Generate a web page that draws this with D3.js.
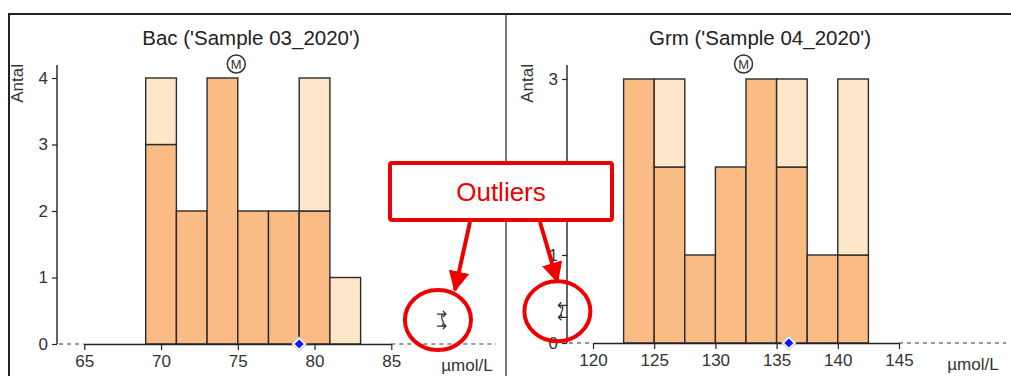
<!DOCTYPE html>
<html>
<head>
<meta charset="utf-8">
<script src="https://cdn.jsdelivr.net/npm/d3@7"></script>
<style>
  body { margin: 0; background: #fff; }
  svg { display: block; font-family: "Liberation Sans", Arial, sans-serif; }
</style>
</head>
<body>
<div id="chart"></div>
<script>
// values
var titles = ["Bac ('Sample 03_2020')", "Grm ('Sample 04_2020')"];
var unitLabel = "µmol/L";
var yLabel = "Antal";

var bacBinStart = [69, 71, 73, 75, 77, 79, 81];
var bacBinWidth = 2;
var bacDark  = [3, 2, 4, 2, 2, 2, 0];
var bacLight = [1, 0, 0, 0, 0, 2, 1];
var bacXTicks = [65, 70, 75, 80, 85];
var bacYTicks = [0, 1, 2, 3, 4];
var bacTarget = 79;
var bacMedian = 74.9;
var bacOutlier = 88.3;

var grmBinStart = [122.5, 125, 127.5, 130, 132.5, 135, 137.5, 140];
var grmBinWidth = 2.5;
var grmDark  = [3, 2, 1, 2, 3, 2, 1, 1];
var grmLight = [0, 1, 0, 0, 0, 1, 0, 2];
var grmXTicks = [120, 125, 130, 135, 140, 145];
var grmYTicks = [0, 1, 2, 3];
var grmTarget = 136;
var grmMedian = 132.3;
var grmOutlier = 117.5;

var width = 1011, height = 376;
var darkFill = "#fbbb85", lightFill = "#fee6c9", edge = "#2b2b2b";
var red = "#ee0000";

var svg = d3.select("#chart").append("svg")
  .attr("width", width)
  .attr("height", height);

// outer frame and divider
svg.append("path")
  .attr("d", "M9," + (height + 2) + "V14H" + (width + 2))
  .attr("fill", "none")
  .attr("stroke", "#222")
  .attr("stroke-width", 2);
svg.append("line")
  .attr("x1", 506).attr("x2", 506)
  .attr("y1", 14).attr("y2", height)
  .attr("stroke", "#333")
  .attr("stroke-width", 1.3);

var panels = [
  { title: titles[0], titleX: 251, starts: bacBinStart, w: bacBinWidth, dark: bacDark, light: bacLight,
    xTicks: bacXTicks, yTicks: bacYTicks, target: bacTarget, median: bacMedian, outlier: bacOutlier, dir: 1,
    axisX: 57, xRange: [84.3, 391.3], yRange: [344, 78], endX: 496, unitX: 467, labelX: 17 },
  { title: titles[1], titleX: 760, starts: grmBinStart, w: grmBinWidth, dark: grmDark, light: grmLight,
    xTicks: grmXTicks, yTicks: grmYTicks, target: grmTarget, median: grmMedian, outlier: grmOutlier, dir: -1,
    axisX: 567, xRange: [593, 899], yRange: [343, 79], endX: 1006, unitX: 973, labelX: 527 }
];

var outlierPos = [];

panels.forEach(function(p) {
  var g = svg.append("g");
  var x = d3.scaleLinear()
    .domain([p.xTicks[0], p.xTicks[p.xTicks.length - 1]])
    .range(p.xRange);
  var y = d3.scaleLinear()
    .domain([0, p.yTicks[p.yTicks.length - 1]])
    .range(p.yRange);
  var base = y(0);

  g.append("text")
    .attr("x", p.titleX)
    .attr("y", 45)
    .attr("text-anchor", "middle")
    .attr("font-size", 20.5)
    .attr("fill", "#222")
    .text(p.title);

  // y label
  g.append("text")
    .attr("transform", "translate(" + (p.labelX + 6) + ",64) rotate(-90)")
    .attr("text-anchor", "end")
    .attr("font-size", 17)
    .attr("fill", "#333")
    .text(yLabel);

  // bars
  var bins = p.starts.map(function(s, i) { return { x0: s, x1: s + p.w, dark: p.dark[i], light: p.light[i] }; });
  g.selectAll(".dark")
    .data(bins.filter(function(d) { return d.dark > 0; }))
    .enter().append("rect")
      .attr("x", function(d) { return x(d.x0); })
      .attr("width", function(d) { return x(d.x1) - x(d.x0); })
      .attr("y", function(d) { return y(d.dark); })
      .attr("height", function(d) { return base - y(d.dark); })
      .attr("fill", darkFill)
      .attr("stroke", edge)
      .attr("stroke-width", 1.4);
  g.selectAll(".light")
    .data(bins.filter(function(d) { return d.light > 0; }))
    .enter().append("rect")
      .attr("x", function(d) { return x(d.x0); })
      .attr("width", function(d) { return x(d.x1) - x(d.x0); })
      .attr("y", function(d) { return y(d.dark + d.light); })
      .attr("height", function(d) { return y(d.dark) - y(d.dark + d.light); })
      .attr("fill", lightFill)
      .attr("stroke", edge)
      .attr("stroke-width", 1.4);

  // y axis
  var ya = g.append("g")
    .attr("transform", "translate(" + p.axisX + ",0)")
    .call(d3.axisLeft(y).tickValues(p.yTicks).tickSize(5).tickPadding(4).tickFormat(d3.format("d")));
  ya.select(".domain").remove();
  ya.selectAll("text").attr("font-size", 17).attr("fill", "#333").attr("font-family", null);
  ya.selectAll("line").attr("stroke", "#222").attr("stroke-width", 1.2);
  g.append("line")
    .attr("x1", p.axisX).attr("x2", p.axisX)
    .attr("y1", 65).attr("y2", base)
    .attr("stroke", "#222").attr("stroke-width", 1.4);

  // x axis
  var xa = g.append("g")
    .attr("transform", "translate(0," + base + ")")
    .call(d3.axisBottom(x).tickValues(p.xTicks).tickSize(6).tickSizeOuter(0).tickPadding(5));
  xa.select(".domain").attr("stroke", "#222").attr("stroke-width", 1.4);
  xa.selectAll("line").attr("stroke", "#222").attr("stroke-width", 1.2);
  xa.selectAll("text").attr("font-size", 17).attr("fill", "#333").attr("font-family", null);

  // dashed extensions of the axis
  [[p.axisX + 2, p.xRange[0]], [p.xRange[1], p.endX]].forEach(function(seg) {
    g.append("line")
      .attr("x1", seg[0]).attr("x2", seg[1])
      .attr("y1", base).attr("y2", base)
      .attr("stroke", "#333")
      .attr("stroke-width", 1.2)
      .attr("stroke-dasharray", "4,4");
  });

  g.append("text")
    .attr("x", p.unitX)
    .attr("y", base + 27)
    .attr("text-anchor", "middle")
    .attr("font-size", 17)
    .attr("fill", "#333")
    .text(unitLabel);

  // target diamond
  var dg = g.append("g").attr("transform", "translate(" + x(p.target) + "," + base + ") rotate(45)");
  dg.append("path")
    .attr("d", d3.symbol(d3.symbolSquare, 100)())
    .attr("fill", "#fff")
    .attr("stroke", "#ccc")
    .attr("stroke-width", 1);
  dg.append("path")
    .attr("d", d3.symbol(d3.symbolSquare, 42)())
    .attr("fill", "#1515ff");

  // median marker
  var mg = g.append("g").attr("transform", "translate(" + x(p.median) + ",64)");
  mg.append("circle")
    .attr("r", 9)
    .attr("fill", "#fff")
    .attr("stroke", "#333")
    .attr("stroke-width", 1.5);
  mg.append("text")
    .attr("y", 5)
    .attr("text-anchor", "middle")
    .attr("font-size", 13)
    .attr("fill", "#333")
    .text("M");

  // outlier marker: two stacked arrows
  var ox = x(p.outlier), oy = y(0.36);
  outlierPos.push([ox, oy]);
  var og = g.append("g").attr("transform", "translate(" + ox + "," + oy + ") scale(" + p.dir + ",1)");
  [-6, 6].forEach(function(dy) {
    og.append("path")
      .attr("d", "M-5," + dy + "H4M1," + (dy - 3) + "L4," + dy + "L1," + (dy + 3))
      .attr("fill", "none")
      .attr("stroke", "#333")
      .attr("stroke-width", 1.3);
  });
  og.append("path")
    .attr("d", "M1,-6C-4,-2 5,2 0,6")
    .attr("fill", "none")
    .attr("stroke", "#333")
    .attr("stroke-width", 1.2);
});

// "Outliers" callout
var call = svg.append("g");
var defs = svg.append("defs");
defs.append("marker")
  .attr("id", "head")
  .attr("viewBox", "0 0 10 10")
  .attr("refX", 9).attr("refY", 5)
  .attr("markerWidth", 5.2).attr("markerHeight", 5.2)
  .attr("orient", "auto")
  .append("path")
    .attr("d", "M0,0L10,5L0,10Z")
    .attr("fill", red);

call.append("rect")
  .attr("x", 390).attr("y", 163)
  .attr("width", 222).attr("height", 57)
  .attr("rx", 2)
  .attr("fill", "#fff")
  .attr("stroke", red)
  .attr("stroke-width", 4);
call.append("text")
  .attr("x", 501).attr("y", 201)
  .attr("text-anchor", "middle")
  .attr("font-size", 26)
  .attr("fill", red)
  .text("Outliers");

var arrowStart = [[470, 222], [540, 222]];
outlierPos.forEach(function(o, i) {
  var tipX = i === 0 ? o[0] + 13 : o[0] - 5;
  call.append("line")
    .attr("x1", arrowStart[i][0]).attr("y1", arrowStart[i][1])
    .attr("x2", tipX).attr("y2", o[1] - 30)
    .attr("stroke", red)
    .attr("stroke-width", 4)
    .attr("marker-end", "url(#head)");
  call.append("ellipse")
    .attr("cx", i === 0 ? o[0] - 4 : o[0] - 5)
    .attr("cy", o[1])
    .attr("rx", 33).attr("ry", 30)
    .attr("fill", "none")
    .attr("stroke", red)
    .attr("stroke-width", 4);
});
</script>
</body>
</html>
